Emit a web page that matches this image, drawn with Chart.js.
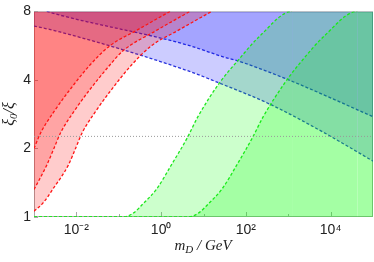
<!DOCTYPE html>
<html><head><meta charset="utf-8">
<script src="https://cdn.jsdelivr.net/npm/chart.js@4/dist/chart.umd.min.js"></script>
<style>html,body{margin:0;padding:0;background:#fff}canvas{display:block}</style>
</head><body>
<canvas id="c" width="374" height="262"></canvas>
<script>
// ---- axis ticks ----
const xTickValues = [1e-2, 1, 1e2, 1e4];
const xTickLabels = ['10\u207B\u00B2', '10\u2070', '10\u00B2', '10\u2074'];
const xMinorTicks = [1e-1, 1e1, 1e3];
const yTickValues = [1, 2, 4, 8];
const yTickLabels = ['1', '2', '4', '8'];
const xRange = [1e-3, 1e5];
const yRange = [1, 8];

// ---- red bands (region above/left of each curve) ----
const redAx = [0.001, 0.00145, 0.00295, 0.00646, 0.0209, 0.0617, 0.263, 1.62];
const redAy = [2.0, 2.35, 2.9, 3.55, 4.65, 5.65, 6.6, 8];
const redBx = [0.001, 0.002, 0.00295, 0.00427, 0.0087, 0.019, 0.0617, 0.123, 0.776, 4.79];
const redBy = [1.32, 1.69, 2.0, 2.35, 2.9, 3.55, 4.65, 5.35, 6.6, 8];
const redCx = [0.001, 0.00162, 0.00282, 0.00646, 0.00955, 0.0138, 0.0282, 0.0617, 0.2, 0.589, 2.51, 15.5];
const redCy = [1.06, 1.15, 1.33, 1.69, 2.0, 2.35, 2.9, 3.55, 4.65, 5.65, 6.6, 8];

// ---- blue bands (region above each line) ----
const blueUx = [0.002, 0.0041, 4.1, 35, 62, 930, 1e5];
const blueUy = [8, 7.7, 5.7, 5.0, 4.86, 4.03, 2.76];
const blueLx = [0.001, 0.0041, 4.1, 21, 355, 6900, 1e5];
const blueLy = [6.9, 6.5, 4.4, 3.91, 3.14, 2.35, 1.76];

// ---- green bands (region below/right of each curve) ----
const green1x = [0.001, 0.126, 0.22, 0.37, 0.79, 1.8, 4.1, 7.4, 24.5, 62, 214, 1230, 1e5];
const green1y = [1, 1, 1.04, 1.14, 1.33, 1.71, 2.22, 2.76, 3.91, 4.82, 6.24, 8, 8];
const green2x = [0.001, 4.37, 7.59, 12.9, 27.5, 63.1, 141, 257, 851, 1995, 7079, 42700, 1e5];
const green2y = [1, 1, 1.04, 1.14, 1.33, 1.71, 2.22, 2.76, 3.91, 4.8, 6.24, 8, 8];

// ---- reference line ----
const refLineX = [1e-3, 1e5];
const refLineY = [2.26, 2.26];

const xTitleParts = ['m', 'D', ' / GeV'];
const yTitleParts = ['\u03BE', '0', '/\u03BE'];

const pts = (xs, ys) => xs.map((x, i) => ({x, y: ys[i]}));
const RED = 'rgb(255,20,20)', BLUE = 'rgb(40,50,220)', GREEN = 'rgb(30,230,30)';
const dash = [3, 2];

function band(xs, ys, line, fillCol, fill) {
  return {
    data: pts(xs, ys), borderColor: line, backgroundColor: fillCol, fill,
    borderWidth: 1.3, borderDash: dash, pointRadius: 0, cubicInterpolationMode: 'monotone',
    segment: {
      borderColor: c => (c.p0.parsed.y >= 8 && c.p1.parsed.y >= 8) ? 'rgba(0,0,0,0)' : line
    }
  };
}

const framePlugin = {
  id: 'frame',
  beforeDatasetsDraw(chart) {
    const {ctx, chartArea: a, scales} = chart;
    ctx.save();
    ctx.strokeStyle = '#a8a8a8';
    ctx.lineWidth = 1;
    ctx.strokeRect(a.left + 0.5, a.top + 0.5, a.right - a.left - 1, a.bottom - a.top - 1);
    ctx.beginPath();
    xTickValues.forEach(v => {
      const p = Math.round(scales.x.getPixelForValue(v)) + 0.5;
      ctx.moveTo(p, a.bottom); ctx.lineTo(p, a.bottom - 5);
    });
    xMinorTicks.forEach(v => {
      const p = Math.round(scales.x.getPixelForValue(v)) + 0.5;
      ctx.moveTo(p, a.bottom); ctx.lineTo(p, a.bottom - 3);
    });
    yTickValues.forEach(v => {
      const p = Math.round(scales.y.getPixelForValue(v)) + 0.5;
      ctx.moveTo(a.left, p); ctx.lineTo(a.left + 4, p);
    });
    ctx.stroke();
    ctx.restore();
  },
  afterDraw(chart) {
    const {ctx} = chart;
    ctx.save();
    ctx.fillStyle = '#222';
    ctx.textBaseline = 'alphabetic';
    const big = 'italic 15px "Liberation Serif"', small = 'italic 11px "Liberation Serif"';
    // x title
    ctx.font = big; const w0 = ctx.measureText(xTitleParts[0]).width;
    const w2 = ctx.measureText(xTitleParts[2]).width;
    ctx.font = small; const w1 = ctx.measureText(xTitleParts[1]).width;
    let x = 203 - (w0 + w1 + w2) / 2, y = 250;
    ctx.font = big; ctx.fillText(xTitleParts[0], x, y); x += w0;
    ctx.font = small; ctx.fillText(xTitleParts[1], x, y + 3); x += w1;
    ctx.font = big; ctx.fillText(xTitleParts[2], x, y);
    // y title
    const ybig = 'italic 16px "Liberation Serif"', ysmall = 'italic 11px "Liberation Serif"';
    ctx.translate(14, 114);
    ctx.rotate(-Math.PI / 2);
    ctx.font = ybig; const v0 = ctx.measureText(yTitleParts[0]).width;
    const v2 = ctx.measureText(yTitleParts[2]).width;
    ctx.font = ysmall; const v1 = ctx.measureText(yTitleParts[1]).width;
    x = -(v0 + v1 + v2) / 2;
    ctx.font = ybig; ctx.fillText(yTitleParts[0], x, 0); x += v0;
    ctx.font = ysmall; ctx.fillText(yTitleParts[1], x, 3); x += v1;
    ctx.font = ybig; ctx.fillText(yTitleParts[2], x, 0);
    ctx.restore();
  }
};

new Chart(document.getElementById('c'), {
  type: 'line',
  data: {
    datasets: [
      {data: pts(refLineX, refLineY), borderColor: '#999', borderWidth: 1, borderDash: [1, 2],
       pointRadius: 0, fill: false},
      band(redAx, redAy, RED, 'rgba(255,0,0,0.2)', 'end'),
      band(redBx, redBy, RED, 'rgba(255,0,0,0.2)', 'end'),
      band(redCx, redCy, RED, 'rgba(255,0,0,0.2)', 'end'),
      band(green1x, green1y, GREEN, 'rgba(0,255,0,0.2)', 'start'),
      band(green2x, green2y, GREEN, 'rgba(0,255,0,0.2)', 'start'),
      band(blueLx, blueLy, BLUE, 'rgba(0,0,255,0.2)', 'end'),
      band(blueUx, blueUy, BLUE, 'rgba(0,0,255,0.2)', 'end')
    ]
  },
  options: {
    responsive: false, animation: false, devicePixelRatio: 1,
    layout: {padding: {top: 8, right: 1, left: 0, bottom: 0}},
    plugins: {legend: {display: false}, tooltip: {enabled: false}},
    scales: {
      x: {
        type: 'logarithmic', min: xRange[0], max: xRange[1],
        grid: {display: false, drawTicks: false}, border: {display: false},
        afterBuildTicks: s => { s.ticks = xTickValues.map(v => ({value: v})); },
        afterFit: s => { s.height = 45; },
        ticks: {autoSkip: false, maxRotation: 0, padding: 5, color: '#222',
          font: {family: '"Liberation Sans", Arial, sans-serif', size: 14},
          callback: (v, i) => xTickLabels[i]}
      },
      y: {
        type: 'logarithmic', min: yRange[0], max: yRange[1],
        grid: {display: false, drawTicks: false}, border: {display: false},
        afterBuildTicks: s => { s.ticks = yTickValues.map(v => ({value: v})); },
        afterFit: s => { s.width = 34; },
        ticks: {autoSkip: false, padding: 3, color: '#222',
          font: {family: '"Liberation Sans", Arial, sans-serif', size: 14},
          callback: (v, i) => yTickLabels[i]}
      }
    }
  },
  plugins: [framePlugin]
});
</script>
</body></html>
